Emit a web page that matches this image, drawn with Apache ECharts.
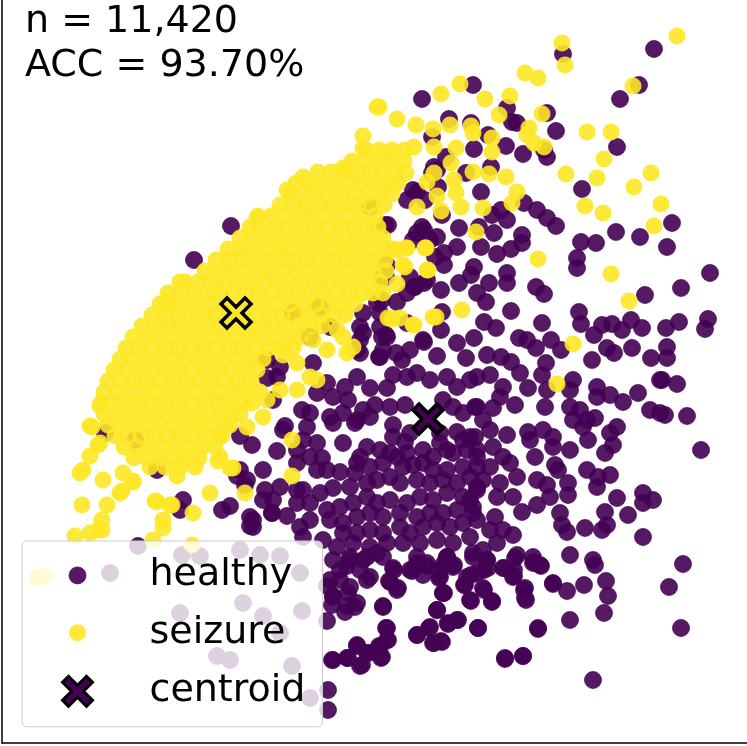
<!DOCTYPE html>
<html lang="en">
<head>
	<meta charset="UTF-8">
	<title>clusters</title>
	<script src="https://cdn.jsdelivr.net/npm/echarts@6/dist/echarts.min.js"></script>
	<style>
		html,body{margin:0;padding:0;background:#fff;}
		#main{width:747px;height:746px;}
	</style>
</head>
<body>
	<div id="main"></div>
	<script>
		// text in the top left corner
		var infoLines = ['n = 11,420', 'ACC = 93.70%'];
		var legendNames = ['healthy', 'seizure', 'centroid'];

		// healthy points [x, y] (y grows downwards)
		var healthy = [
			// upper right
			[654,49],[563,54],[473,85],[639,85],[620,99],[422,99],[507,108],[547,113],[512,122],[517,123],[449,119],[471,123],[556,131],[488,135],[432,137],[506,146],[523,154],[544,150],[547,157],[617,147],[474,149],[446,157],[434,167],[466,173],[491,167],[582,189],[481,192],[417,192],[407,200],[524,203],[537,210],[547,218],[556,226],[507,220],[501,210],[492,215],[459,228],[442,215],[424,230],[437,237],[417,233],[388,225],[494,233],[522,235],[522,243],[479,227],[481,247],[497,254],[511,249],[457,247],[444,253],[581,242],[596,243],[616,232],[640,237],[672,223],[667,247],[577,258],[577,268],[710,273],[681,288],[645,295],[536,287],[544,294],[507,273],[507,283],[489,283],[474,267],[471,275],[459,283],[444,265],[441,290],[424,283],[414,287],[407,293],[386,277],[382,300],[397,302],[477,293],[486,302],[511,311],[579,312],[581,324],[542,323],[484,322],[496,328],[442,312],[441,330],[424,342],[386,335],[457,343],[474,338],[519,338],[527,340],[551,340],[561,350],[536,348],[594,335],[602,325],[612,324],[631,320],[642,328],[622,330],[666,328],[679,322],[708,319],[705,329],[667,347],[607,348],[614,353],[592,360],[632,348],[651,358],[667,358],[379,357],[396,353],[402,360],[437,356],[466,358],[487,355],[501,357],[511,362],[546,363],
			// right edge and lower part
			[662,380],[677,384],[665,415],[687,416],[701,450],
			[417,563],[426,566],[412,571],[394,570],[389,581],[397,590],[439,571],[446,560],[454,565],[439,578],[487,560],[484,570],[471,575],[464,585],[484,590],[471,601],[492,601],[444,593],[504,568],[514,570],[514,576],[524,590],[526,600],[534,562],[541,566],
			[595,565],[553,584],[567,591],[584,585],[606,581],[608,596],[604,613],[570,620],[683,564],[669,587],[681,628],[538,629],[478,628],[457,620],[448,624],[429,628],[417,635],[434,643],[441,641],[437,610],[443,593],[383,606],[386,628],[387,640],[379,646],[381,658],[505,659],[523,656],[593,680],
			// left of the middle
			[231,226],[194,260],[105,433],[157,470],[183,500],[180,510],[222,510],[230,506],[240,436],[252,445],[237,476],[245,485],[253,520],[250,526],[263,470],[277,451],[285,426],[273,500],[263,500],[272,513],[287,516],
			[333,560],[347,566],[363,560],[340,580],[327,586],[333,596],[348,593],[347,606],[357,603],[367,580],[327,621],[357,646],[367,653],[347,658],[333,660],[360,666],[328,690],[328,710],
			[138,546],[110,573],[180,613],[243,603],[263,616],[302,611],[280,633],[217,656],[230,660],[292,666],[310,698],[200,556],[240,550],[260,555],[280,556],[300,573],[182,555],
			[413,190],[425,200],[437,170],[438,187],[432,173],[370,207],[385,225],[422,227],[413,240],[430,240],[435,257],[387,265],[383,277],[410,277],[415,287],[427,280],[377,303],[380,313],[363,313],[360,327],[380,327],[387,337],[407,323],[423,340],[410,350],[383,350],[360,340],[360,353],[330,327],[310,337],[320,307],[293,313],
			[135,440],[240,470],[247,480],[265,490],[280,487],[250,517],[253,527],[272,513],[283,430],[382,337],[363,333],[357,350],[277,377],[280,367],[273,400],[313,363],[267,360],[267,378],[380,357],
			// dense middle part
			[327,383],[345,387],[357,377],[370,388],[387,388],[393,375],[407,377],[417,373],[430,380],[447,377],[457,387],[470,380],[475,407],[463,413],[453,407],[443,400],[405,405],[390,407],[375,405],[363,410],[348,400],[333,397],[317,393],[310,413],[302,410],[330,417],[333,423],[343,413],[357,420],[355,423],[370,417],[393,425],[393,437],[410,433],[405,442],[440,433],[457,432],[463,440],[475,437],[440,443],[423,450],[407,453],[390,453],[380,450],[367,447],[343,443],[317,443],[303,440],[297,450],[297,463],[310,457],[322,458],[317,470],[327,470],[340,472],[357,463],[360,457],[355,473],[370,467],[383,463],[397,457],[403,467],[413,465],[423,463],[433,457],[447,450],[453,453],[467,450],[477,457],[463,467],[447,470],[433,470],[443,480],[457,483],[470,477],[477,487],[430,483],[417,480],[400,483],[390,477],[377,480],[367,483],[350,487],[333,488],[320,493],[303,490],[297,503],[310,503],[327,510],[340,507],[353,503],[367,497],[377,503],[390,500],[407,503],[420,497],[433,500],[447,493],[463,497],[473,507],[457,510],[443,513],[430,513],[417,517],[400,513],[383,517],[370,513],[357,517],[343,523],[330,520],[310,520],[300,527],[303,537],[323,540],[343,533],[357,533],[370,530],[383,533],[400,527],[410,533],[423,527],[437,523],[450,527],[463,523],[477,520],[470,537],[453,543],[437,540],[420,543],[403,543],[387,543],[370,547],[353,543],[337,547],[350,557],[383,557],[417,557],[447,557],[473,557],[297,490],[307,427],
			[477,377],[490,375],[503,387],[520,373],[528,388],[542,375],[547,390],[573,380],[570,390],[597,387],[597,397],[610,395],[623,402],[638,393],[650,410],[660,380],[660,413],[477,407],[493,408],[515,405],[500,397],[545,407],[570,407],[580,410],[573,420],[587,420],[595,418],[583,427],[483,420],[490,430],[507,435],[528,432],[530,440],[543,430],[553,437],[553,447],[570,450],[588,440],[610,433],[617,427],[613,445],[605,453],[470,437],[477,450],[493,447],[503,457],[510,463],[490,467],[477,467],[535,457],[555,465],[558,470],[587,470],[598,477],[610,475],[597,487],[517,477],[500,483],[483,480],[477,490],[497,497],[513,497],[537,480],[547,485],[550,497],[568,483],[568,495],[537,505],[522,512],[560,513],[562,525],[567,532],[585,528],[602,530],[607,525],[605,512],[617,498],[628,515],[643,493],[643,503],[653,500],[643,537],[473,513],[495,517],[490,530],[503,530],[513,535],[497,543],[483,550],[517,555],[533,557],[570,555],[593,560],[470,500],
			[350,560],[367,557],[377,553],[340,570],[360,570],[370,577],[330,580],[333,597],[350,587],[332,605],[345,612],[355,607],[383,607],[393,568],[390,582],[398,588],[410,570],[418,565],[427,563],[423,575],[440,577],[447,557],[443,565],[453,567],[443,593],[437,610],[473,553],[487,560],[467,577],[465,585],[477,573],[488,568],[503,568],[515,558],[513,577],[533,563],[540,565],[553,583],[483,588],[470,600],[492,602],[525,588],[525,598],[387,628],[388,640],[380,647],[382,657],[368,653],[357,645],[348,658],[362,665],[332,660],[417,635],[430,627],[433,643],[442,642],[448,623],[458,620],[478,628],[505,658],[523,656],[538,628]
		];

		// seizure points [x, y]
		var seizure = [
			// dense core
			[366,150],[379,150],[392,150],[405,150],
			[352,161],[365,161],[378,161],[391,161],[404,161],
			[318,172],[331,172],[344,172],[357,172],[370,172],[383,172],[396,172],
			[296,183],[309,183],[322,183],[335,183],[348,183],[361,183],[374,183],[387,183],[398,183],
			[290,194],[303,194],[316,194],[329,194],[342,194],[355,194],[368,194],[381,194],[392,194],
			[280,205],[293,205],[306,205],[319,205],[332,205],[345,205],[358,205],[371,205],[384,205],
			[258,216],[271,216],[284,216],[297,216],[310,216],[323,216],[336,216],[349,216],[362,216],[375,216],
			[250,227],[263,227],[276,227],[289,227],[302,227],[315,227],[328,227],[341,227],[354,227],[367,227],[378,227],
			[240,238],[253,238],[266,238],[279,238],[292,238],[305,238],[318,238],[331,238],[344,238],[357,238],[370,238],[383,238],
			[228,249],[241,249],[254,249],[267,249],[280,249],[293,249],[306,249],[319,249],[332,249],[345,249],[358,249],[371,249],[384,249],[394,249],
			[216,260],[229,260],[242,260],[255,260],[268,260],[281,260],[294,260],[307,260],[320,260],[333,260],[346,260],[359,260],[372,260],[385,260],
			[205,271],[218,271],[231,271],[244,271],[257,271],[270,271],[283,271],[296,271],[309,271],[322,271],[335,271],[348,271],[361,271],[374,271],[386,271],
			[185,282],[198,282],[211,282],[224,282],[237,282],[250,282],[263,282],[276,282],[289,282],[302,282],[315,282],[328,282],[341,282],[354,282],[367,282],[380,282],
			[168,293],[181,293],[194,293],[207,293],[220,293],[233,293],[246,293],[259,293],[272,293],[285,293],[298,293],[311,293],[324,293],[337,293],[350,293],[363,293],[373,293],
			[160,304],[173,304],[186,304],[199,304],[212,304],[225,304],[238,304],[251,304],[264,304],[277,304],[290,304],[303,304],[316,304],[329,304],[342,304],[355,304],
			[152,315],[165,315],[178,315],[191,315],[204,315],[217,315],[230,315],[243,315],[256,315],[269,315],[282,315],[295,315],[308,315],[321,315],[334,315],[345,315],
			[142,326],[155,326],[168,326],[181,326],[194,326],[207,326],[220,326],[233,326],[246,326],[259,326],[272,326],[285,326],[298,326],[311,326],[322,326],
			[133,337],[146,337],[159,337],[172,337],[185,337],[198,337],[211,337],[224,337],[237,337],[250,337],[263,337],[276,337],[289,337],[300,337],
			[126,348],[139,348],[152,348],[165,348],[178,348],[191,348],[204,348],[217,348],[230,348],[243,348],[256,348],[269,348],[282,348],[293,348],
			[120,359],[133,359],[146,359],[159,359],[172,359],[185,359],[198,359],[211,359],[224,359],[237,359],[250,359],[263,359],
			[114,370],[127,370],[140,370],[153,370],[166,370],[179,370],[192,370],[205,370],[218,370],[231,370],[244,370],[257,370],
			[108,381],[121,381],[134,381],[147,381],[160,381],[173,381],[186,381],[199,381],[212,381],[225,381],[238,381],[251,381],
			[104,392],[117,392],[130,392],[143,392],[156,392],[169,392],[182,392],[195,392],[208,392],[221,392],[234,392],[247,392],[260,392],
			[101,403],[114,403],[127,403],[140,403],[153,403],[166,403],[179,403],[192,403],[205,403],[218,403],[231,403],[244,403],[252,403],
			[104,414],[117,414],[130,414],[143,414],[156,414],[169,414],[182,414],[195,414],[208,414],[221,414],[234,414],[240,414],
			[108,425],[121,425],[134,425],[147,425],[160,425],[173,425],[186,425],[199,425],[212,425],[225,425],[230,425],
			[115,436],[128,436],[141,436],[154,436],[167,436],[180,436],[193,436],[206,436],[219,436],[222,436],
			[124,447],[137,447],[150,447],[163,447],[176,447],[189,447],[202,447],[215,447],
			[134,458],[147,458],[160,458],[173,458],[186,458],[199,458],
			[150,467],[165,467],[180,467],[195,467],
			// scattered
			[562,43],[677,36],[565,65],[525,73],[538,78],[460,84],[441,94],[485,99],[510,96],[499,115],[542,114],[633,86],[379,107],[397,119],[416,125],[433,129],[450,125],[471,126],[473,133],[492,138],[529,128],[527,135],[534,143],[544,147],[587,132],[611,132],[414,147],[434,147],[456,148],[492,152],[604,159],[566,174],[597,178],[651,173],[634,187],[506,177],[489,174],[473,172],[451,163],[434,173],[427,182],[454,180],[406,173],[517,192],[512,203],[585,206],[603,213],[661,204],[654,226],[483,208],[461,207],[441,211],[417,207],[437,196],[456,193],[476,232],[426,248],[406,248],[427,270],[405,267],[397,284],[383,293],[538,259],[611,274],[629,301],[462,310],[436,317],[414,325],[392,319],[573,344],[557,384],
			[377,107],[363,136],[363,148],[303,177],[287,190],[343,168],[257,218],[180,282],[167,302],
			[90,426],[98,445],[90,456],[80,473],[103,480],[82,505],[107,505],[122,491],[123,473],[133,481],[100,406],[75,536],[90,533],[102,520],[102,530],[155,501],[163,520],[163,528],[153,540],[172,505],[193,513],[192,545],[210,493],[245,493],[292,440],[292,476],[218,461],[230,468],[177,476],[37,578],[45,576],[92,427],[100,443],[83,470],[120,493],[133,482],[98,530],[157,502],[170,505],[233,468],[220,457],
			[433,317],[413,325],[400,318],[388,318],[397,250],[407,248],[425,248],[428,270],[403,265],
			[313,340],[327,350],[343,337],[347,353],[353,347],[310,377],[317,380],[297,390],[280,390],[283,355],[297,363],[337,330],[267,400],[263,417],[247,427]
		];

		// cluster centres
		var centroids = [[236,313],[428,419]];
		var centroidColors = ['#fde725', '#440154'];

		var xShape = 'path://M0,20 L20,0 L50,30 L80,0 L100,20 L70,50 L100,80 L80,100 L50,70 L20,100 L0,80 L30,50 Z';
		var iconDot = 'path://M0,0 M111,40 M35.5,20 A8.5,8.5 0 1,0 52.5,20 A8.5,8.5 0 1,0 35.5,20 Z';
		var iconX = 'path://M0,0 M111,40 M29,11 L35,5 L44,14 L53,5 L59,11 L50,20 L59,29 L53,35 L44,26 L35,35 L29,29 L38,20 Z';

		var purple = '#440154';
		var yellow = '#fde725';
		var font = '"DejaVu Sans", sans-serif';

		var myChart = echarts.init(document.getElementById('main'));
		var option = {
			animation: false,
			backgroundColor: '#fff',
			title: {
				text: infoLines.join('\n'),
				left: 25,
				top: 0,
				padding: 0,
				textStyle: {
					fontSize: 38,
					fontWeight: 'normal',
					fontFamily: font,
					color: '#000',
					lineHeight: 44
				}
			},
			grid: {left: 2, right: 0, top: 0, bottom: 3},
			xAxis: {
				type: 'value', min: 2, max: 747,
				axisLine: {show: true, onZero: false, lineStyle: {color: '#000', width: 1.5}},
				axisTick: {show: false}, axisLabel: {show: false}, splitLine: {show: false}
			},
			yAxis: {
				type: 'value', min: 0, max: 743, inverse: true,
				axisLine: {show: true, onZero: false, lineStyle: {color: '#000', width: 1.5}},
				axisTick: {show: false}, axisLabel: {show: false}, splitLine: {show: false}
			},
			legend: {
				orient: 'vertical',
				left: 22,
				top: 541,
				padding: [14, 17, 14, 10],
				itemWidth: 111,
				itemHeight: 40,
				itemGap: 17,
				selectedMode: false,
				backgroundColor: 'rgba(255,255,255,0.8)',
				borderColor: '#cccccc',
				borderWidth: 1,
				borderRadius: 5,
				textStyle: {fontSize: 38, fontFamily: font, color: '#000', lineHeight: 40},
				data: [
					{name: legendNames[0], icon: iconDot, itemStyle: {color: purple, borderColor: purple, borderWidth: 0.8, opacity: 0.9}},
					{name: legendNames[1], icon: iconDot, itemStyle: {color: yellow, borderWidth: 0, opacity: 0.9}},
					{name: legendNames[2], icon: iconX, itemStyle: {color: purple, borderColor: '#000', borderWidth: 3, opacity: 1}}
				]
			},
			series: [
				{
					name: legendNames[0], type: 'scatter', data: healthy, symbolSize: 17, silent: true,
					itemStyle: {color: purple, borderColor: purple, borderWidth: 0.8, opacity: 0.9}
				},
				{
					name: legendNames[1], type: 'scatter', data: seizure, symbolSize: 17, silent: true,
					itemStyle: {color: yellow, borderWidth: 0, opacity: 0.9}
				},
				{
					name: legendNames[2], type: 'scatter', symbol: xShape, symbolSize: 30, silent: true,
					itemStyle: {color: purple, borderColor: '#000', borderWidth: 3.5, opacity: 1},
					data: centroids.map(function(c, i){
						return {value: c, itemStyle: {color: centroidColors[i]}};
					})
				}
			]
		};
		myChart.setOption(option);
	</script>
</body>
</html>
